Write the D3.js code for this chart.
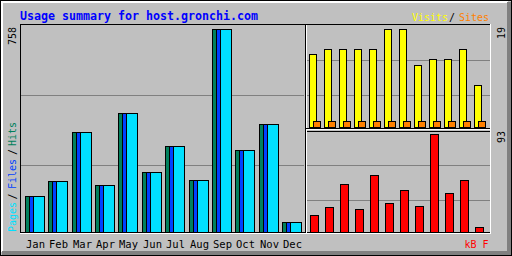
<!DOCTYPE html>
<html><head><meta charset="utf-8">
<script src="https://cdn.jsdelivr.net/npm/d3@7"></script>
<style>html,body{margin:0;padding:0;background:#c0c0c0}svg{display:block}</style>
</head><body>
<script>
const title = "Usage summary for host.gronchi.com";
const months = ["Jan","Feb","Mar","Apr","May","Jun","Jul","Aug","Sep","Oct","Nov","Dec"];
const hits   = [133,190,370,172,441,224,321,194,758,306,400,36];
const files  = [133,190,370,172,441,224,321,194,758,306,400,36];
const pages  = [133,190,370,172,441,224,321,194,758,306,400,36];
const visits = [14,15,15,15,15,19,19,12,13,13,15,8];
const sites  = [1,1,1,1,1,1,1,1,1,1,1,1];
const kbytes = [16,23,45,21,54,27,39,24,93,37,49,4];
const legendLeft = ["Pages","Files","Hits"];
const legendTop = ["Visits","Sites"];
const legendBottom = "kB F";

const C = {grey:"#c0c0c0", dk:"#808080", hit:"#00805c", file:"#0040ff", page:"#00e0ff",
           visit:"#ffff00", site:"#ff8000", kb:"#ff0000", blue:"#0000ff"};
const W=512,H=256;
const svg = d3.select("body").append("svg").attr("width",W).attr("height",H)
  .attr("shape-rendering","crispEdges");
svg.append("rect").attr("width",W).attr("height",H).attr("fill",C.grey);
// outer shadow frame
svg.append("rect").attr("x",1).attr("y",1).attr("width",2).attr("height",251).attr("fill","#fff");
svg.append("rect").attr("x",1).attr("y",1).attr("width",507).attr("height",2).attr("fill","#fff");
svg.append("rect").attr("x",507).attr("y",2).attr("width",4).attr("height",253).attr("fill",C.dk);
svg.append("rect").attr("x",2).attr("y",251).attr("width",509).attr("height",4).attr("fill",C.dk);
svg.append("rect").attr("x",0.5).attr("y",0.5).attr("width",511).attr("height",255).attr("fill","none").attr("stroke","#000");

function hline(y,x1,x2,c){svg.append("line").attr("x1",x1).attr("x2",x2+1).attr("y1",y+0.5).attr("y2",y+0.5).attr("stroke",c);}
function vline(x,y1,y2,c){svg.append("line").attr("y1",y1).attr("y2",y2+1).attr("x1",x+0.5).attr("x2",x+0.5).attr("stroke",c);}

// scales
const xM = d3.scaleLinear().domain([0,11]).range([25,282]);
const yM = d3.scaleLinear().domain([0,d3.max(hits)]).range([232,29]);
const xR = d3.scaleLinear().domain([0,11]).range([309,474]);
const yV = d3.scaleLinear().domain([0,d3.max(visits)]).range([127,29]);
const yK = d3.scaleLinear().domain([0,d3.max(kbytes)]).range([232,134]);
const gM = d3.scaleLinear().domain([0,3]).range([235,25]);
const gT = d3.scaleLinear().domain([0,3]).range([130,25]);
const gB = d3.scaleLinear().domain([0,3]).range([235,130]);

// grid lines
[1,2].forEach(i=>{
  hline(Math.round(gM(i)),21,303,C.dk);
  hline(Math.round(gT(i)),307,489,C.dk);
  hline(Math.round(gB(i)),307,489,C.dk);
});

// boxes
hline(24,20,490,"#000"); vline(20,24,233,"#000");
hline(232,20,489,"#000");
hline(233,20,490,"#fff"); vline(490,24,233,"#fff");
vline(305,24,232,"#000"); vline(306,25,232,"#fff");
hline(128,306,489,"#000"); hline(129,306,489,"#fff");
hline(131,307,489,"#000");

function bars(data, xs, ys, base, dx, w, color){
  svg.append("g").selectAll("rect").data(data).join("rect")
    .attr("x",(d,i)=>Math.round(xs(i))+dx+0.5)
    .attr("y",d=>Math.floor(ys(d))+0.5)
    .attr("width",w)
    .attr("height",d=>base-Math.floor(ys(d)))
    .attr("fill",color).attr("stroke","#000");
}
bars(hits, xM, yM, 232, 0, 11, C.hit);
bars(files, xM, yM, 232, 4, 11, C.file);
bars(pages, xM, yM, 232, 8, 11, C.page);
bars(visits, xR, yV, 127, 0, 7, C.visit);
bars(sites, xR, yV, 127, 4, 7, C.site);
bars(kbytes, xR, yK, 232, 1, 8, C.kb);

const mono = "'DejaVu Sans Mono', 'Liberation Mono', monospace";
const txt = svg.append("g").attr("font-family",mono).attr("text-rendering","optimizeSpeed");
// title
txt.append("text").attr("x",20).attr("y",20).attr("font-size",12).attr("font-weight","bold")
  .attr("fill",C.blue).attr("textLength",238).attr("lengthAdjust","spacingAndGlyphs").text(title);
// month labels
txt.append("g").selectAll("text").data(months).join("text")
  .attr("x",(d,i)=>Math.round(xM(i))+1).attr("y",248).attr("font-size",10.5).attr("fill","#000").text(d=>d);
// top right legend
txt.append("text").attr("x",412).attr("y",21).attr("font-size",10).attr("fill",C.visit).text(legendTop[0]);
txt.append("text").attr("x",449).attr("y",21).attr("font-size",10).attr("fill","#000").text("/");
txt.append("text").attr("x",459).attr("y",21).attr("font-size",10).attr("fill",C.site).text(legendTop[1]);
// bottom right legend
txt.append("text").attr("x",464.5).attr("y",248).attr("font-size",10).attr("fill",C.kb).text(legendBottom);
// rotated left legend
function up(x,y,s,color,anchor){
  txt.append("text").attr("transform",`translate(${x},${y}) rotate(-90)`).attr("font-size",10)
    .attr("text-anchor",anchor||"start").attr("fill",color).text(s);
}
up(15.5,232,legendLeft[0],C.page);
up(15.5,196.5,"/","#000","middle");
up(15.5,189,legendLeft[1],C.file);
up(15.5,152,"/","#000","middle");
up(15.5,146,legendLeft[2],C.hit);
// max values
up(16,45,String(d3.max(hits)),"#000");
up(504.5,39,String(d3.max(visits)),"#000");
up(504.5,143,String(d3.max(kbytes)),"#000");
</script>
</body></html>
